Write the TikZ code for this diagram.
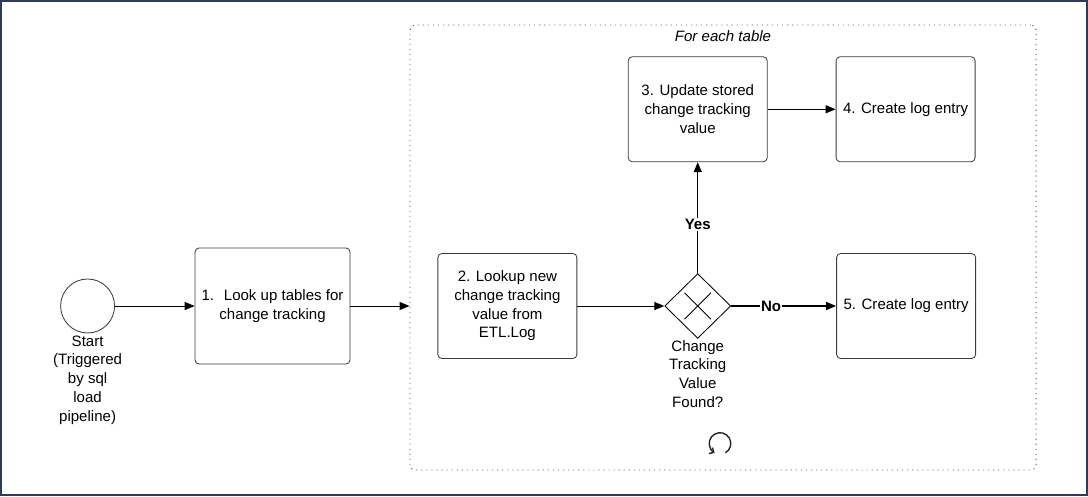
\documentclass[tikz,border=0pt]{standalone}
\usepackage{fontspec}
\setmainfont{Liberation Sans}
\usetikzlibrary{positioning, arrows.meta, shapes.geometric, calc}
\definecolor{framenavy}{RGB}{46,58,89}
\definecolor{boxgray}{RGB}{60,60,60}
\definecolor{loopgray}{RGB}{95,95,95}

\begin{document}
\begin{tikzpicture}[
    font=\fontsize{10.7}{13.3}\selectfont,
    task/.style={draw=boxgray, rectangle, rounded corners=0.1cm, line width=0.6pt, minimum width=3.475cm, minimum height=2.625cm, align=center},
    event/.style={draw=boxgray, circle, line width=0.6pt, minimum size=1.35cm, inner sep=0pt},
    gateway/.style={draw=black, diamond, line width=0.6pt, minimum width=1.65cm, minimum height=1.62cm, inner sep=0pt},
    flow/.style={-{Triangle[length=0.25cm, width=0.2cm]}, line width=0.7pt},
    decision/.style={flow, line width=1pt},
    lbl/.style={fill=white, font=\fontsize{10.7}{13.3}\selectfont\bfseries, inner sep=1pt},
    note/.style={align=center, inner sep=0pt}
]
    \useasboundingbox (0,0) rectangle (27.2,12.4);
    \draw[framenavy, line width=0.0625cm] (0.031,0.031) rectangle (27.169,12.369);

    % Loop container
    \node[draw=loopgray, dash pattern=on 0.8pt off 2.8pt, line width=0.7pt, rounded corners=0.12cm, minimum width=15.65cm, minimum height=11.125cm, inner sep=0pt] (loop) at (18.075,6.2125) {};
    \node[note, font=\fontsize{10.7}{13.3}\selectfont\itshape, below=0.15cm of loop.north] (looptitle) {For each table};
    \coordinate (loopmark) at ($(loop.south)+(-0.075,0.675)$);
    \draw[loopgray!40!black, line width=1pt, -{Straight Barb[length=2.5pt, width=5pt]}] ([shift={(-60:0.27)}]loopmark) arc[start angle=-60, end angle=240, radius=0.27cm];

    % Start
    \node[event] (start) at (2.19,4.75) {};
    \node[note, below=0.05cm of start] (startlbl) {Start\\(Triggered\\by sql\\load\\pipeline)};

    % Tasks
    \node[task, minimum width=3.875cm, minimum height=2.9cm, right=1.99cm of start] (lookup) {1.~ Look up tables for\\change tracking};
    \node[task, right=2.175cm of lookup] (newvalue) {2. Lookup new\\change tracking\\value from\\ETL.Log};
    \node[gateway, right=2.175cm of newvalue] (found) {};
    \draw[line width=0.6pt] ($(found.center)+(-0.33,0.33)$) -- ($(found.center)+(0.33,-0.33)$);
    \draw[line width=0.6pt] ($(found.center)+(-0.33,-0.33)$) -- ($(found.center)+(0.33,0.33)$);
    \node[note, below=0.03cm of found] (foundlbl) {Change\\Tracking\\Value\\Found?};
    \node[task, above=2.775cm of found] (update) {3. Update stored\\change tracking\\value};
    \node[task, right=1.7cm of update] (logyes) {4. Create log entry};
    \node[task, right=2.625cm of found] (logno) {5. Create log entry};

    % Flows
    \draw[flow] (start) -- (lookup);
    \draw[flow] (lookup) -- (lookup -| loop.west);
    \draw[flow] (newvalue) -- (found);
    \draw[decision] (found) -- node[lbl, pos=0.44] {Yes} (update);
    \draw[decision] (found) -- node[lbl, pos=0.38] {No} (logno);
    \draw[flow] (update) -- (logyes);
\end{tikzpicture}
\end{document}
